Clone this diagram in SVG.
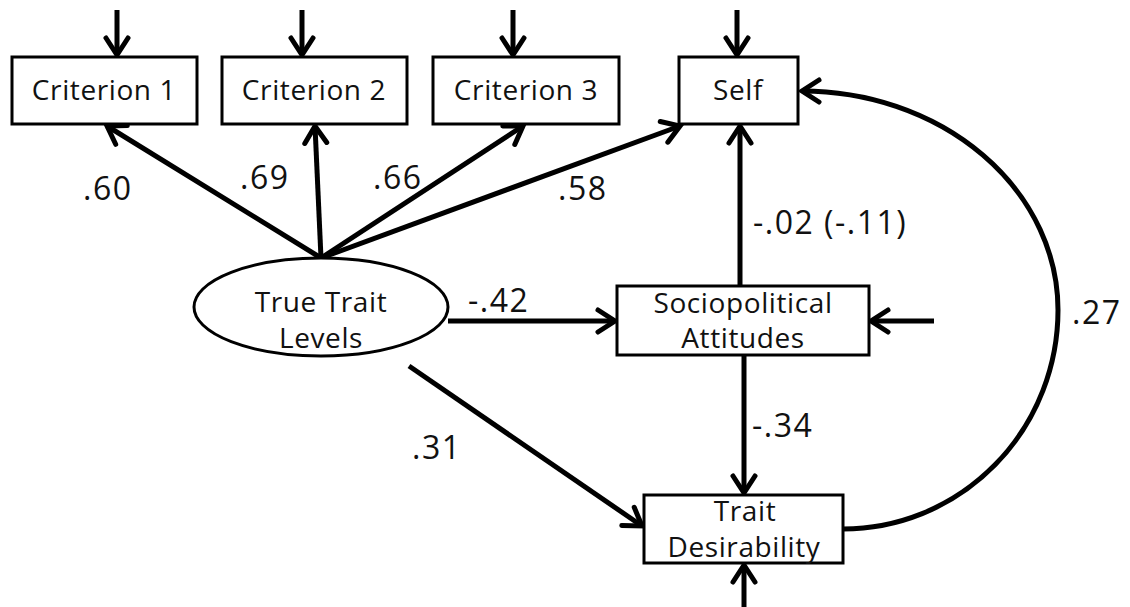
<svg xmlns="http://www.w3.org/2000/svg" width="1130" height="607" viewBox="0 0 1130 607">
<style>
.box{fill:#fff;stroke:#000;stroke-width:3}
.nt{font-family:"Open Sans","Liberation Sans",sans-serif;font-size:28px;fill:#111;text-anchor:middle;letter-spacing:0.6px}
.lb{font-family:"Open Sans","Liberation Sans",sans-serif;font-size:32px;fill:#111;letter-spacing:1.5px}
.ar{fill:none;stroke:#000;stroke-width:5;marker-end:url(#ah)}
</style>
<defs>
<marker id="ah" markerUnits="userSpaceOnUse" markerWidth="30" markerHeight="30" viewBox="0 0 30 30" refX="22" refY="15" orient="auto">
<path d="M5,4 L22,15 L5,26" fill="none" stroke="#000" stroke-width="5" stroke-linecap="round" stroke-linejoin="miter"/>
</marker>
</defs>
<g id="connectors">
<line class="ar" x1="117" y1="10" x2="117" y2="55"/>
<line class="ar" x1="302" y1="10" x2="302" y2="55"/>
<line class="ar" x1="513" y1="10" x2="513" y2="55"/>
<line class="ar" x1="737" y1="10" x2="737" y2="55"/>
<line class="ar" x1="321" y1="258" x2="107" y2="126"/>
<line class="ar" x1="321" y1="258" x2="315" y2="126"/>
<line class="ar" x1="321" y1="258" x2="523" y2="126"/>
<line class="ar" x1="321" y1="258" x2="680" y2="126"/>
<line class="ar" x1="448" y1="321" x2="615" y2="321"/>
<line class="ar" x1="409" y1="366" x2="642" y2="526"/>
<line class="ar" x1="740" y1="286" x2="740" y2="126"/>
<line class="ar" x1="744" y1="355" x2="744" y2="493"/>
<line class="ar" x1="934" y1="321" x2="871" y2="321"/>
<line class="ar" x1="744" y1="607" x2="744" y2="565"/>
<path class="ar" d="M843,529 A215,219 0 0 0 1058,310 A256,219 0 0 0 802,91"/>
</g>
<g id="criterion1"><rect class="box" x="12" y="57" width="185" height="67"/><text class="nt" x="104" y="100">Criterion 1</text></g>
<g id="criterion2"><rect class="box" x="222" y="57" width="185" height="67"/><text class="nt" x="314" y="100">Criterion 2</text></g>
<g id="criterion3"><rect class="box" x="433" y="57" width="186" height="67"/><text class="nt" x="526" y="100">Criterion 3</text></g>
<g id="self"><rect class="box" x="679" y="57" width="119" height="67"/><text class="nt" x="738" y="100">Self</text></g>
<g id="trueTrait"><ellipse cx="321" cy="307" rx="127" ry="49" fill="#fff" stroke="#000" stroke-width="3"/><text class="nt" x="321" y="312">True Trait</text><text class="nt" x="321" y="348">Levels</text></g>
<g id="socio"><rect class="box" x="617" y="286" width="252" height="69"/><text class="nt" x="743" y="313">Sociopolitical</text><text class="nt" x="743" y="348">Attitudes</text></g>
<g id="traitDes"><rect class="box" x="644" y="495" width="199" height="68"/><text class="nt" x="745" y="521">Trait</text><text class="nt" x="744" y="557">Desirability</text></g>
<g id="labels">
<text class="lb" x="83" y="200">.60</text>
<text class="lb" x="240" y="189">.69</text>
<text class="lb" x="373" y="189">.66</text>
<text class="lb" x="558" y="200">.58</text>
<text class="lb" x="468" y="312">-.42</text>
<text class="lb" x="412" y="459">.31</text>
<text class="lb" x="753" y="234">-.02 (-.11)</text>
<text class="lb" x="752" y="437">-.34</text>
<text class="lb" x="1072" y="324">.27</text>
</g>
</svg>
